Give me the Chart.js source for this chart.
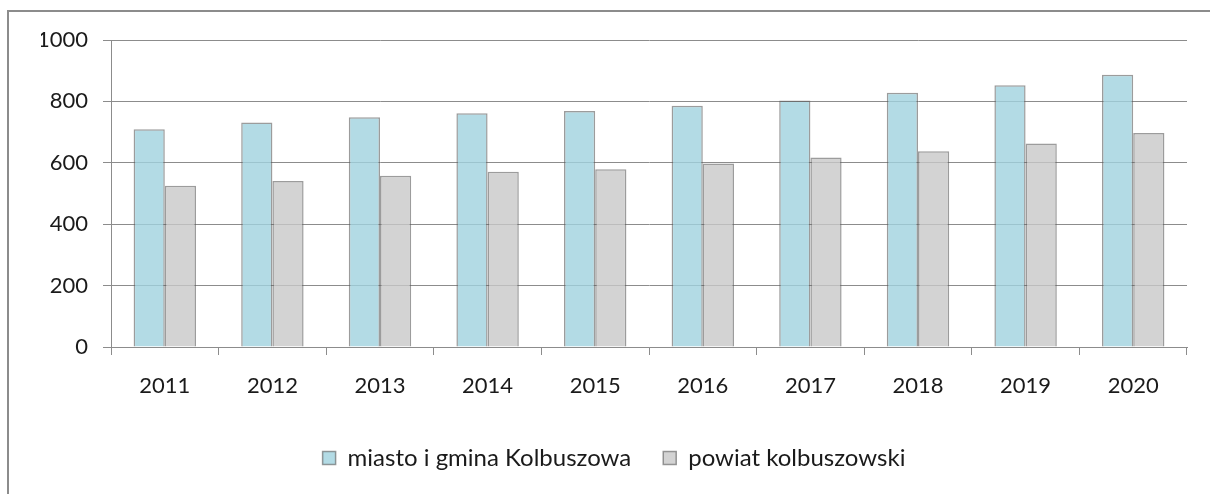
<!DOCTYPE html>
<html>
<head>
<meta charset="utf-8">
<script src="https://cdn.jsdelivr.net/npm/chart.js@4/dist/chart.umd.min.js"></script>
<style>
  html, body { margin: 0; padding: 0; background: #fff; overflow: hidden; }
  #wrap { position: relative; width: 1210px; height: 494px; overflow: hidden; }
  #frame { position: absolute; left: 7px; top: 10px; width: 1300px; height: 600px; border: 2px solid #8c8c8c; }
  #c { position: absolute; left: 0; top: 0; }
</style>
</head>
<body>
<div id="wrap">
  <div id="frame"></div>
  <canvas id="c" width="1210" height="480"></canvas>
</div>
<script>
const years = ['2011', '2012', '2013', '2014', '2015', '2016', '2017', '2018', '2019', '2020'];
const miasto = [709, 731, 748, 761, 769, 786, 803, 828, 853, 887];
const powiat = [525, 541, 558, 571, 579, 598, 617, 638, 663, 697];
const seriesNames = ['miasto i gmina Kolbuszowa', 'powiat kolbuszowski'];
const yMax = 1000;
const yStep = 200;

const gridGray = '#8c8c8c';
const font = { family: 'Lato', size: 22 };

new Chart(document.getElementById('c'), {
  type: 'bar',
  data: {
    labels: years,
    datasets: [{
      label: seriesNames[0],
      data: miasto,
      backgroundColor: 'rgba(160,210,222,0.8)',
      borderColor: 'rgba(90,90,90,0.6)',
      borderWidth: 1.5
    }, {
      label: seriesNames[1],
      data: powiat,
      backgroundColor: 'rgba(200,200,200,0.8)',
      borderColor: 'rgba(90,90,90,0.6)',
      borderWidth: 1.5
    }]
  },
  options: {
    responsive: false,
    animation: false,
    devicePixelRatio: 1,
    layout: { padding: { left: 41, top: 40, right: 23, bottom: 0 } },
    datasets: { bar: { categoryPercentage: 0.58, barPercentage: 1 } },
    scales: {
      x: {
        grid: { drawOnChartArea: false, drawTicks: true, tickLength: 8, color: gridGray },
        border: { color: gridGray },
        ticks: { font: font, color: '#1a1a1a', padding: 18, maxRotation: 0 },
        afterFit: s => { s.height = 67; }
      },
      y: {
        min: 0,
        max: yMax,
        grid: { color: gridGray, tickLength: 8 },
        border: { color: gridGray },
        ticks: { stepSize: yStep, font: font, color: '#1a1a1a', padding: 15, callback: v => String(v) },
        afterFit: s => { s.width = 70; }
      }
    },
    plugins: {
      legend: {
        position: 'bottom',
        labels: { font: { family: 'Lato', size: 24 }, color: '#1a1a1a', boxWidth: 13, boxHeight: 13, padding: 32 }
      },
      tooltip: { enabled: false }
    }
  }
});
</script>
</body>
</html>
